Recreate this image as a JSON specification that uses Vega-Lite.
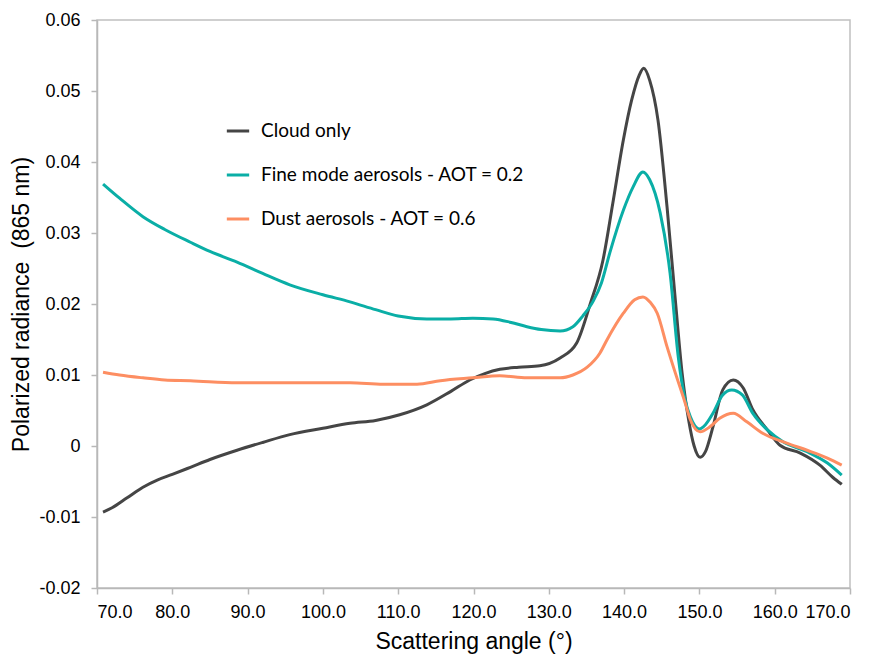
{
  "$schema": "https://vega.github.io/schema/vega-lite/v6.json",
  "width": 753,
  "height": 568,
  "autosize": {"type": "none"},
  "padding": {"left": 97, "top": 20, "right": 25, "bottom": 68},
  "background": "white",
  "config": {
    "view": {"stroke": "#c0c0c0", "strokeWidth": 1.5},
    "axis": {
      "grid": false,
      "domainColor": "#b8b8b8",
      "domainWidth": 1.5,
      "tickColor": "#b8b8b8",
      "tickWidth": 1.5,
      "tickSize": 6,
      "labelFont": "Liberation Sans",
      "labelFontSize": 18,
      "labelColor": "#000000",
      "titleFont": "Liberation Sans",
      "titleFontSize": 23,
      "titleFontWeight": "normal",
      "titleColor": "#000000"
    },
    "legend": {"labelFont": "Lato"}
  },
  "data": {
    "values": [
      {"s": "Cloud only", "x": 70.8, "y": -0.0093},
      {"s": "Cloud only", "x": 72, "y": -0.0087},
      {"s": "Cloud only", "x": 74, "y": -0.0073},
      {"s": "Cloud only", "x": 76.1, "y": -0.0058},
      {"s": "Cloud only", "x": 78, "y": -0.0048},
      {"s": "Cloud only", "x": 80, "y": -0.0040},
      {"s": "Cloud only", "x": 82.4, "y": -0.0030},
      {"s": "Cloud only", "x": 85, "y": -0.0019},
      {"s": "Cloud only", "x": 88.6, "y": -0.0006},
      {"s": "Cloud only", "x": 92, "y": 0.0005},
      {"s": "Cloud only", "x": 95.6, "y": 0.0016},
      {"s": "Cloud only", "x": 100, "y": 0.0025},
      {"s": "Cloud only", "x": 103.6, "y": 0.0032},
      {"s": "Cloud only", "x": 107, "y": 0.0036},
      {"s": "Cloud only", "x": 110.2, "y": 0.0044},
      {"s": "Cloud only", "x": 113.8, "y": 0.0058},
      {"s": "Cloud only", "x": 117, "y": 0.0077},
      {"s": "Cloud only", "x": 119.5, "y": 0.0093},
      {"s": "Cloud only", "x": 121.5, "y": 0.0102},
      {"s": "Cloud only", "x": 123.5, "y": 0.0108},
      {"s": "Cloud only", "x": 126, "y": 0.0111},
      {"s": "Cloud only", "x": 128.8, "y": 0.0113},
      {"s": "Cloud only", "x": 131.5, "y": 0.0124},
      {"s": "Cloud only", "x": 133.7, "y": 0.0145},
      {"s": "Cloud only", "x": 135.5, "y": 0.0200},
      {"s": "Cloud only", "x": 137.2, "y": 0.0262},
      {"s": "Cloud only", "x": 138.5, "y": 0.0342},
      {"s": "Cloud only", "x": 139.9, "y": 0.0431},
      {"s": "Cloud only", "x": 141.0, "y": 0.0487},
      {"s": "Cloud only", "x": 142.0, "y": 0.0522},
      {"s": "Cloud only", "x": 142.6, "y": 0.0532},
      {"s": "Cloud only", "x": 143.4, "y": 0.0515},
      {"s": "Cloud only", "x": 144.5, "y": 0.0459},
      {"s": "Cloud only", "x": 145.7, "y": 0.0337},
      {"s": "Cloud only", "x": 146.8, "y": 0.0206},
      {"s": "Cloud only", "x": 147.7, "y": 0.0103},
      {"s": "Cloud only", "x": 148.6, "y": 0.0035},
      {"s": "Cloud only", "x": 149.3, "y": 0.0000},
      {"s": "Cloud only", "x": 150.1, "y": -0.0016},
      {"s": "Cloud only", "x": 150.8, "y": -0.0008},
      {"s": "Cloud only", "x": 151.8, "y": 0.0027},
      {"s": "Cloud only", "x": 153.1, "y": 0.0079},
      {"s": "Cloud only", "x": 154.5, "y": 0.0093},
      {"s": "Cloud only", "x": 155.8, "y": 0.0082},
      {"s": "Cloud only", "x": 157.1, "y": 0.0051},
      {"s": "Cloud only", "x": 159.0, "y": 0.0023},
      {"s": "Cloud only", "x": 160.7, "y": 0.0001},
      {"s": "Cloud only", "x": 163.4, "y": -0.0010},
      {"s": "Cloud only", "x": 166.0, "y": -0.0027},
      {"s": "Cloud only", "x": 167.7, "y": -0.0044},
      {"s": "Cloud only", "x": 168.9, "y": -0.0054},

      {"s": "Fine mode aerosols - AOT = 0.2", "x": 70.8, "y": 0.0369},
      {"s": "Fine mode aerosols - AOT = 0.2", "x": 73, "y": 0.0349},
      {"s": "Fine mode aerosols - AOT = 0.2", "x": 76.1, "y": 0.0323},
      {"s": "Fine mode aerosols - AOT = 0.2", "x": 79, "y": 0.0305},
      {"s": "Fine mode aerosols - AOT = 0.2", "x": 82.4, "y": 0.0287},
      {"s": "Fine mode aerosols - AOT = 0.2", "x": 85, "y": 0.0274},
      {"s": "Fine mode aerosols - AOT = 0.2", "x": 88.6, "y": 0.0259},
      {"s": "Fine mode aerosols - AOT = 0.2", "x": 92, "y": 0.0243},
      {"s": "Fine mode aerosols - AOT = 0.2", "x": 95.6, "y": 0.0227},
      {"s": "Fine mode aerosols - AOT = 0.2", "x": 100, "y": 0.0213},
      {"s": "Fine mode aerosols - AOT = 0.2", "x": 103.6, "y": 0.0203},
      {"s": "Fine mode aerosols - AOT = 0.2", "x": 107, "y": 0.0192},
      {"s": "Fine mode aerosols - AOT = 0.2", "x": 110, "y": 0.0183},
      {"s": "Fine mode aerosols - AOT = 0.2", "x": 113.8, "y": 0.0179},
      {"s": "Fine mode aerosols - AOT = 0.2", "x": 117, "y": 0.0179},
      {"s": "Fine mode aerosols - AOT = 0.2", "x": 119.9, "y": 0.0180},
      {"s": "Fine mode aerosols - AOT = 0.2", "x": 122.6, "y": 0.0179},
      {"s": "Fine mode aerosols - AOT = 0.2", "x": 125, "y": 0.0174},
      {"s": "Fine mode aerosols - AOT = 0.2", "x": 127.1, "y": 0.0168},
      {"s": "Fine mode aerosols - AOT = 0.2", "x": 129, "y": 0.0164},
      {"s": "Fine mode aerosols - AOT = 0.2", "x": 131.5, "y": 0.0162},
      {"s": "Fine mode aerosols - AOT = 0.2", "x": 133.2, "y": 0.0168},
      {"s": "Fine mode aerosols - AOT = 0.2", "x": 134.5, "y": 0.0183},
      {"s": "Fine mode aerosols - AOT = 0.2", "x": 135.9, "y": 0.0204},
      {"s": "Fine mode aerosols - AOT = 0.2", "x": 137, "y": 0.0230},
      {"s": "Fine mode aerosols - AOT = 0.2", "x": 138.1, "y": 0.0272},
      {"s": "Fine mode aerosols - AOT = 0.2", "x": 139.9, "y": 0.0332},
      {"s": "Fine mode aerosols - AOT = 0.2", "x": 141.2, "y": 0.0365},
      {"s": "Fine mode aerosols - AOT = 0.2", "x": 142.5, "y": 0.0386},
      {"s": "Fine mode aerosols - AOT = 0.2", "x": 143.4, "y": 0.0375},
      {"s": "Fine mode aerosols - AOT = 0.2", "x": 144.8, "y": 0.0328},
      {"s": "Fine mode aerosols - AOT = 0.2", "x": 146.1, "y": 0.0244},
      {"s": "Fine mode aerosols - AOT = 0.2", "x": 147.2, "y": 0.0125},
      {"s": "Fine mode aerosols - AOT = 0.2", "x": 148.1, "y": 0.0065},
      {"s": "Fine mode aerosols - AOT = 0.2", "x": 148.8, "y": 0.0041},
      {"s": "Fine mode aerosols - AOT = 0.2", "x": 150.0, "y": 0.0024},
      {"s": "Fine mode aerosols - AOT = 0.2", "x": 150.8, "y": 0.0030},
      {"s": "Fine mode aerosols - AOT = 0.2", "x": 151.8, "y": 0.0046},
      {"s": "Fine mode aerosols - AOT = 0.2", "x": 153.1, "y": 0.0072},
      {"s": "Fine mode aerosols - AOT = 0.2", "x": 154.3, "y": 0.0079},
      {"s": "Fine mode aerosols - AOT = 0.2", "x": 155.7, "y": 0.0072},
      {"s": "Fine mode aerosols - AOT = 0.2", "x": 157.1, "y": 0.0046},
      {"s": "Fine mode aerosols - AOT = 0.2", "x": 159.0, "y": 0.0023},
      {"s": "Fine mode aerosols - AOT = 0.2", "x": 161.1, "y": 0.0006},
      {"s": "Fine mode aerosols - AOT = 0.2", "x": 164.3, "y": -0.0008},
      {"s": "Fine mode aerosols - AOT = 0.2", "x": 167.0, "y": -0.0024},
      {"s": "Fine mode aerosols - AOT = 0.2", "x": 168.9, "y": -0.0041},

      {"s": "Dust aerosols - AOT = 0.6", "x": 70.8, "y": 0.0104},
      {"s": "Dust aerosols - AOT = 0.6", "x": 73, "y": 0.0100},
      {"s": "Dust aerosols - AOT = 0.6", "x": 76.1, "y": 0.0096},
      {"s": "Dust aerosols - AOT = 0.6", "x": 79, "y": 0.0093},
      {"s": "Dust aerosols - AOT = 0.6", "x": 82.4, "y": 0.0092},
      {"s": "Dust aerosols - AOT = 0.6", "x": 88.6, "y": 0.0089},
      {"s": "Dust aerosols - AOT = 0.6", "x": 95, "y": 0.0089},
      {"s": "Dust aerosols - AOT = 0.6", "x": 103.6, "y": 0.0089},
      {"s": "Dust aerosols - AOT = 0.6", "x": 108, "y": 0.0087},
      {"s": "Dust aerosols - AOT = 0.6", "x": 112.5, "y": 0.0087},
      {"s": "Dust aerosols - AOT = 0.6", "x": 115.6, "y": 0.0092},
      {"s": "Dust aerosols - AOT = 0.6", "x": 119.9, "y": 0.0096},
      {"s": "Dust aerosols - AOT = 0.6", "x": 123.5, "y": 0.0099},
      {"s": "Dust aerosols - AOT = 0.6", "x": 127.1, "y": 0.0096},
      {"s": "Dust aerosols - AOT = 0.6", "x": 131.5, "y": 0.0096},
      {"s": "Dust aerosols - AOT = 0.6", "x": 133.2, "y": 0.0100},
      {"s": "Dust aerosols - AOT = 0.6", "x": 135.1, "y": 0.0111},
      {"s": "Dust aerosols - AOT = 0.6", "x": 136.8, "y": 0.0131},
      {"s": "Dust aerosols - AOT = 0.6", "x": 137.7, "y": 0.0149},
      {"s": "Dust aerosols - AOT = 0.6", "x": 139.9, "y": 0.0187},
      {"s": "Dust aerosols - AOT = 0.6", "x": 141.4, "y": 0.0206},
      {"s": "Dust aerosols - AOT = 0.6", "x": 142.5, "y": 0.0210},
      {"s": "Dust aerosols - AOT = 0.6", "x": 143.5, "y": 0.0202},
      {"s": "Dust aerosols - AOT = 0.6", "x": 144.4, "y": 0.0187},
      {"s": "Dust aerosols - AOT = 0.6", "x": 145.7, "y": 0.0140},
      {"s": "Dust aerosols - AOT = 0.6", "x": 146.8, "y": 0.0103},
      {"s": "Dust aerosols - AOT = 0.6", "x": 148.1, "y": 0.0061},
      {"s": "Dust aerosols - AOT = 0.6", "x": 148.8, "y": 0.0037},
      {"s": "Dust aerosols - AOT = 0.6", "x": 150.1, "y": 0.0020},
      {"s": "Dust aerosols - AOT = 0.6", "x": 151.4, "y": 0.0027},
      {"s": "Dust aerosols - AOT = 0.6", "x": 152.7, "y": 0.0039},
      {"s": "Dust aerosols - AOT = 0.6", "x": 154.5, "y": 0.0046},
      {"s": "Dust aerosols - AOT = 0.6", "x": 156.3, "y": 0.0034},
      {"s": "Dust aerosols - AOT = 0.6", "x": 158.4, "y": 0.0018},
      {"s": "Dust aerosols - AOT = 0.6", "x": 161.6, "y": 0.0004},
      {"s": "Dust aerosols - AOT = 0.6", "x": 164.3, "y": -0.0006},
      {"s": "Dust aerosols - AOT = 0.6", "x": 167.0, "y": -0.0017},
      {"s": "Dust aerosols - AOT = 0.6", "x": 168.9, "y": -0.0027}
    ]
  },
  "mark": {"type": "line", "interpolate": "monotone", "strokeWidth": 3},
  "encoding": {
    "x": {
      "field": "x",
      "type": "quantitative",
      "scale": {"domain": [70, 170], "nice": false, "zero": false},
      "axis": {
        "title": "Scattering angle (°)",
        "values": [70, 80, 90, 100, 110, 120, 130, 140, 150, 160, 170],
        "format": ".1f",
        "labelFont": "Liberation Sans",
        "titleFont": "Liberation Sans",
        "labelPadding": 9,
        "titlePadding": 9
      }
    },
    "y": {
      "field": "y",
      "type": "quantitative",
      "scale": {"domain": [-0.02, 0.06], "nice": false, "zero": false},
      "axis": {
        "title": "Polarized radiance\u00a0\u00a0(865 nm)",
        "values": [-0.02, -0.01, 0, 0.01, 0.02, 0.03, 0.04, 0.05, 0.06],
        "labelExpr": "replace(format(datum.value, '~g'), '\u2212', '-')",
        "labelFont": "Liberation Sans",
        "titleFont": "Liberation Sans",
        "labelPadding": 11,
        "titlePadding": 5
      }
    },
    "color": {
      "field": "s",
      "type": "nominal",
      "sort": ["Cloud only", "Fine mode aerosols - AOT = 0.2", "Dust aerosols - AOT = 0.6"],
      "scale": {
        "domain": ["Cloud only", "Fine mode aerosols - AOT = 0.2", "Dust aerosols - AOT = 0.6"],
        "range": ["#454545", "#0aaea6", "#fd8e62"]
      },
      "legend": {
        "title": null,
        "orient": "none",
        "legendX": 128,
        "legendY": 98,
        "symbolType": "stroke",
        "symbolSize": 500,
        "symbolStrokeWidth": 3,
        "labelFont": "Lato",
        "labelFontSize": 19,
        "labelLimit": 500,
        "labelColor": "#000000",
        "labelOffset": 10,
        "rowPadding": 21
      }
    }
  }
}
